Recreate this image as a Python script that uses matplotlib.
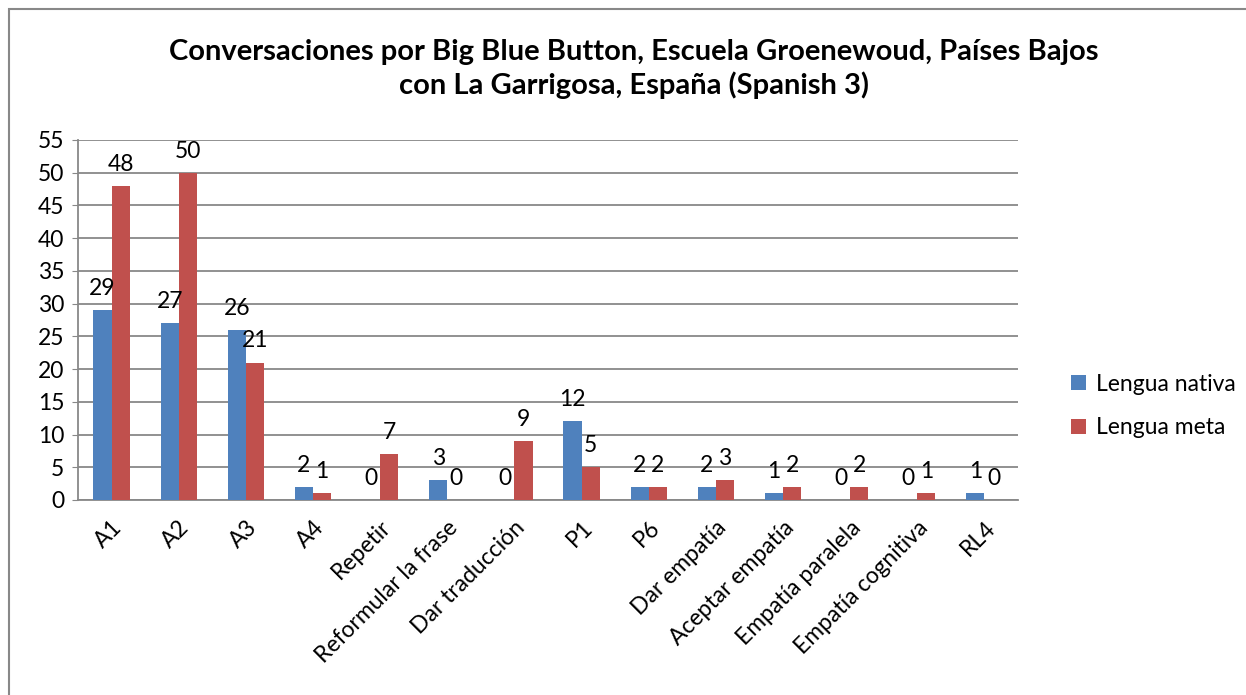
import matplotlib
matplotlib.use("Agg")
import matplotlib.pyplot as plt
import numpy as np
from matplotlib.patches import Rectangle

plt.rcParams['font.family'] = ['Lato', 'DejaVu Sans']

# data
categories = ["A1", "A2", "A3", "A4", "Repetir", "Reformular la frase",
              "Dar traducción", "P1", "P6", "Dar empatía", "Aceptar empatía",
              "Empatía paralela", "Empatía cognitiva", "RL4"]
nativa = [29, 27, 26, 2, 0, 3, 0, 12, 2, 2, 1, 0, 0, 1]
meta = [48, 50, 21, 1, 7, 0, 9, 5, 2, 3, 2, 2, 1, 0]
series_names = ["Lengua nativa", "Lengua meta"]
colors = ["#4F81BD", "#C0504D"]
yticks = list(range(0, 60, 5))

W, H = 1246, 695
fig = plt.figure(figsize=(W / 100, H / 100), dpi=100)
ax = fig.add_axes([78 / W, 1 - 500 / H, (1018 - 78) / W, (500 - 140) / H])

FS = 16.5
x = np.arange(len(categories))
bw = 0.27
for vals, off, col, name in [(nativa, -bw / 2, colors[0], series_names[0]),
                             (meta, bw / 2, colors[1], series_names[1])]:
    bars = ax.bar(x + off, vals, width=bw, color=col, label=name, zorder=3)
    for b, v in zip(bars, vals):
        ax.annotate(str(v), (b.get_x() + b.get_width() / 2, v),
                    xytext=(0, 8), textcoords="offset points",
                    ha="center", va="bottom", fontsize=FS, zorder=4)

ax.set_xlim(-0.5, len(categories) - 0.5)
ax.set_ylim(0, 55)
ax.set_yticks(yticks)
ax.tick_params(axis="y", labelsize=FS, length=4, color="#888888", pad=6)
ax.set_xticks(x)
ax.set_xticklabels(categories, rotation=45, ha="right", rotation_mode="anchor",
                   fontsize=FS)
ax.tick_params(axis="x", length=0, pad=12)
ax.yaxis.grid(True, color="#888888", linewidth=1.3, zorder=0)
for s in ["top", "right"]:
    ax.spines[s].set_visible(False)
for s in ["left", "bottom"]:
    ax.spines[s].set_color("#888888")
    ax.spines[s].set_linewidth(1.3)

fig.text(634 / W, 1 - 69 / H,
         "Conversaciones por Big Blue Button, Escuela Groenewoud, Países Bajos\n"
         "con La Garrigosa, España (Spanish 3)",
         ha="center", va="center", fontsize=21, fontweight="bold",
         linespacing=1.3)

fig.legend(loc="center left", bbox_to_anchor=(1050 / W, 1 - 406 / H),
           frameon=False, fontsize=FS, handlelength=0.65, handleheight=0.65,
           labelspacing=1.0, handletextpad=0.45)

fig.patches.append(Rectangle((9 / W, -0.1), 1.2, 1 - 9 / H + 0.1,
                             transform=fig.transFigure, fill=False,
                             edgecolor="#888888", linewidth=1.5))

fig.savefig("out.png", dpi=100)
